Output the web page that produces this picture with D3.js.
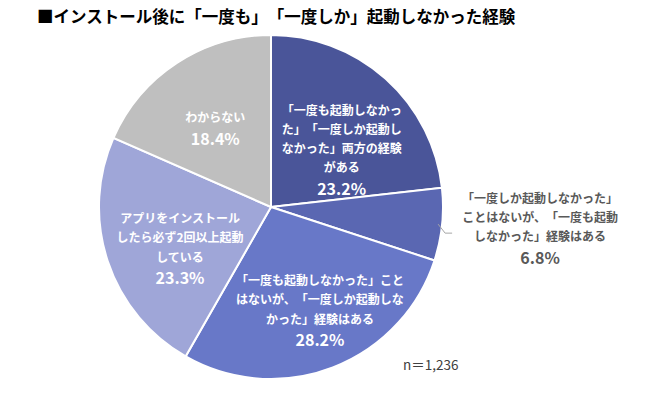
<!DOCTYPE html>
<html>
<head>
<meta charset="utf-8">
<script src="https://cdn.jsdelivr.net/npm/d3@7"></script>
<style>
  body { margin: 0; background: #fff; }
  text { font-family: "Noto Sans CJK JP", "Noto Sans", sans-serif; text-spacing-trim: space-all; }
</style>
</head>
<body>
<script>
// data
var categories = [
    ["「一度も起動しなかっ", "た」「一度しか起動し", "なかった」両方の経験", "がある"],
    ["「一度しか起動しなかった」", "ことはないが、「一度も起動", "しなかった」経験はある"],
    ["「一度も起動しなかった」こと", "はないが、「一度しか起動しな", "かった」経験はある"],
    ["アプリをインストール", "したら必ず2回以上起動", "している"],
    ["わからない"]
];
var values = [23.2, 6.8, 28.2, 23.3, 18.4];
var sliceColors = ["#4a5599", "#5a67b2", "#6878c8", "#9fa6d8", "#bfbfbf"];
var titleText = "■インストール後に「一度も」「一度しか」起動しなかった経験";
var noteText = "n＝1,236";

// layout (label nudges from centroid, outside flag)
var labelNudge = [[4, 16], [0, 0], [13, 9], [4, 9], [-1, 4]];
var outside    = [false, true, false, false, false];

var width = 650, height = 397;
var cx = 271, cy = 207, radius = 172;

var svg = d3.select("body")
    .append("svg")
    .attr("width", width)
    .attr("height", height);

// -------------------------------------------------------------------------- //
//                                  TITLE                                     //
// -------------------------------------------------------------------------- //

svg.append("text")
    .attr("x", 37)
    .attr("y", 16)
    .attr("dominant-baseline", "central")
    .style("font-size", "16.5px")
    .style("font-weight", "bold")
    .style("fill", "#000")
    .text(titleText);

// -------------------------------------------------------------------------- //
//                                   PIE                                      //
// -------------------------------------------------------------------------- //

var pie = d3.pie().sort(null).value(function(d) { return d; });
var arcs = pie(values);

var arc = d3.arc().innerRadius(0).outerRadius(radius);
var labelArc = d3.arc().innerRadius(100).outerRadius(100);
var edgeArc = d3.arc().innerRadius(radius - 4).outerRadius(radius - 4);

var g = svg.append("g").attr("transform", "translate(" + cx + "," + cy + ")");

g.selectAll("path.slice")
    .data(arcs)
    .enter()
    .append("path")
    .attr("class", "slice")
    .attr("d", arc)
    .attr("fill", function(d, i) { return sliceColors[i]; })
    .attr("stroke", "#fff")
    .attr("stroke-width", 2);

// -------------------------------------------------------------------------- //
//                                 LABELS                                     //
// -------------------------------------------------------------------------- //

var lineH = 19.3, pctGap = 21;

arcs.forEach(function(d, i) {
    var lines = categories[i];
    var px, py, col;
    if (outside[i]) {
        var e = edgeArc.centroid(d);
        var e2 = [e[0] + 7, e[1] + 9];
        g.append("polyline")
            .attr("points", [e, e2, [e2[0] + 7, e2[1]]].map(function(p) { return p.join(","); }).join(" "))
            .attr("fill", "none")
            .attr("stroke", "#a6a6a6")
            .attr("stroke-width", 1);
        px = e2[0] + 7 + 88;
        py = e2[1] - 6;
        col = "#595959";
    } else {
        var c = labelArc.centroid(d);
        px = c[0] + labelNudge[i][0];
        py = c[1] + labelNudge[i][1];
        col = "#fff";
    }
    var total = (lines.length - 1) * lineH + pctGap;
    var y0 = py - total / 2;
    var t = g.append("g");
    lines.forEach(function(s, k) {
        t.append("text")
            .attr("x", px)
            .attr("y", y0 + k * lineH)
            .attr("text-anchor", "middle")
            .attr("dominant-baseline", "central")
            .style("font-size", "12px")
            .style("font-weight", "bold")
            .style("fill", col)
            .text(s);
    });
    t.append("text")
        .attr("x", px)
        .attr("y", y0 + (lines.length - 1) * lineH + pctGap)
        .attr("text-anchor", "middle")
        .attr("dominant-baseline", "central")
        .style("font-size", "16px")
        .style("font-weight", "bold")
        .style("fill", col)
        .text(d3.format(".1f")(values[i]) + "%");
});

// note
svg.append("text")
    .attr("x", 403)
    .attr("y", 364)
    .attr("dominant-baseline", "central")
    .style("font-size", "13.5px")
    .style("fill", "#404040")
    .text(noteText);
</script>
</body>
</html>
